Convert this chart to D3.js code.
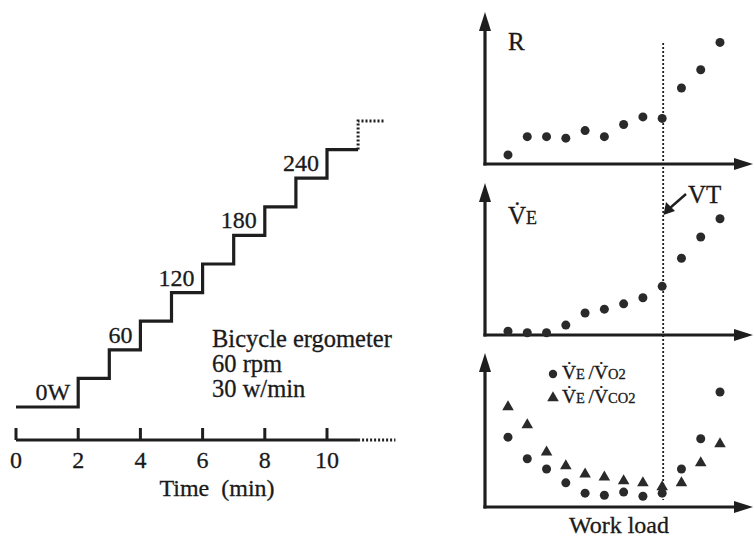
<!DOCTYPE html>
<html>
<head>
<meta charset="utf-8">
<script src="https://cdn.jsdelivr.net/npm/d3@7"></script>
<style>
  html, body { margin: 0; padding: 0; background: #fff; }
  svg { display: block; }
  text { font-family: "Liberation Serif", "Times New Roman", "DejaVu Serif", serif; fill: #1a1a1a; stroke: #1a1a1a; stroke-width: 0.3px; }
</style>
</head>
<body>
<svg id="chart" width="754" height="538"></svg>
<script>
// ---------- data ----------
// Left: incremental exercise protocol (power steps, W) vs time (min)
const stepTimes  = [0, 2, 3, 4, 5, 6, 7, 8, 9, 10, 11];
const stepPower  = [0, 30, 60, 90, 120, 150, 180, 210, 240, 270, 300];
const stepLabels = [{t: 2, p: 0, text: "0W"}, {t: 4, p: 60, text: "60"}, {t: 6, p: 120, text: "120"},
                    {t: 8, p: 180, text: "180"}, {t: 10, p: 240, text: "240"}];
const timeTicks  = [0, 2, 4, 6, 8, 10];
const protocolText = ["Bicycle ergometer", "60 rpm", "30 w/min"];

// Right: responses vs work-load stage
const workStage = [1, 2, 3, 4, 5, 6, 7, 8, 9, 10, 11, 12];
const vtStage   = 9;
const rValues   = [0.78, 0.84, 0.84, 0.835, 0.86, 0.84, 0.88, 0.905, 0.90, 1.00, 1.06, 1.15];
const veValues  = [12.5, 11.5, 11.5, 16.5, 24.5, 27, 30.5, 34.5, 42, 60.5, 74.5, 86.5];
const veVo2     = [31.6, 27.4, 25.4, 22.7, 20.7, 20.3, 20.9, 20.1, 20.7, 25.4, 31.3, 40.4];
const veVco2    = [37.5, 34.0, 28.7, 26.0, 24.4, 23.8, 23.1, 22.7, 21.9, 22.7, 26.6, 30.3];

// ---------- setup ----------
const svg = d3.select("#chart");
const ink = "#1e1e1e";
const dotInk = "#2a2a2a";

// ---------- left chart ----------
const xT = d3.scaleLinear().domain([0, 10]).range([16, 327]);
const yP = d3.scaleLinear().domain([0, 300]).range([407, 121]);

// staircase (solid part up to t=11)
const solidPts = [];
for (let i = 0; i < stepTimes.length - 1; i++) {
  solidPts.push([stepTimes[i], stepPower[i]]);
  solidPts.push([stepTimes[i + 1], stepPower[i]]);
}
svg.append("path")
  .attr("d", d3.line().x(d => xT(d[0])).y(d => yP(d[1]))(solidPts))
  .attr("fill", "none").attr("stroke", ink).attr("stroke-width", 3.2)
  .attr("stroke-linejoin", "miter");

// dotted continuation
const last = stepTimes.length - 1;
const dotPts = [[stepTimes[last], stepPower[last - 1]], [stepTimes[last], stepPower[last]], [stepTimes[last] + 0.88, stepPower[last]]];
svg.append("path")
  .attr("d", d3.line().x(d => xT(d[0])).y(d => yP(d[1]))(dotPts))
  .attr("fill", "none").attr("stroke", ink).attr("stroke-width", 3)
  .attr("stroke-dasharray", "2,2");

// step labels
svg.selectAll("text.step").data(stepLabels).enter().append("text")
  .attr("class", "step")
  .attr("x", d => xT(d.t) - 8)
  .attr("y", d => yP(d.p) - 7)
  .attr("text-anchor", "end")
  .attr("font-size", 24)
  .text(d => d.text);

// protocol text
svg.selectAll("text.proto").data(protocolText).enter().append("text")
  .attr("class", "proto")
  .attr("x", 212)
  .attr("y", (d, i) => 347 + i * 25)
  .attr("font-size", 24.5)
  .text(d => d);

// time axis
const axisY = 440;
svg.append("line").attr("x1", xT(0)).attr("x2", xT(11)).attr("y1", axisY).attr("y2", axisY)
  .attr("stroke", ink).attr("stroke-width", 3);
svg.append("line").attr("x1", xT(11)).attr("x2", xT(12.2)).attr("y1", axisY).attr("y2", axisY)
  .attr("stroke", ink).attr("stroke-width", 3).attr("stroke-dasharray", "2,2");
svg.selectAll("line.tick").data(timeTicks).enter().append("line")
  .attr("class", "tick")
  .attr("x1", d => xT(d)).attr("x2", d => xT(d))
  .attr("y1", axisY - 12).attr("y2", axisY)
  .attr("stroke", ink).attr("stroke-width", 3);
svg.selectAll("text.ticklab").data(timeTicks).enter().append("text")
  .attr("class", "ticklab")
  .attr("x", d => xT(d)).attr("y", 468)
  .attr("text-anchor", "middle").attr("font-size", 24)
  .text(d => d);
svg.append("text").attr("x", 217).attr("y", 496).attr("text-anchor", "middle")
  .attr("font-size", 24).attr("xml:space", "preserve").text("Time\u00a0\u00a0(min)");

// ---------- right panels ----------
const xW = d3.scaleLinear().domain([1, 12]).range([508, 720]);
const axX = 485, axRight = 753;

const panels = [
  {top: 12, bottom: 164, domain: [0.75, 1.25]},
  {top: 183, bottom: 335, domain: [10, 110]},
  {top: 353, bottom: 507, domain: [18, 48]}
];
panels.forEach(p => {
  p.y = d3.scaleLinear().domain(p.domain).range([p.bottom, p.top]);
  svg.append("line").attr("x1", axX).attr("x2", axX).attr("y1", p.top + 12).attr("y2", p.bottom + 1.5)
    .attr("stroke", ink).attr("stroke-width", 3.2);
  svg.append("path").attr("d", `M${axX},${p.top} L${axX - 6},${p.top + 19} L${axX + 6},${p.top + 19} Z`)
    .attr("fill", ink);
  svg.append("line").attr("x1", axX - 1.6).attr("x2", axRight - 12).attr("y1", p.bottom).attr("y2", p.bottom)
    .attr("stroke", ink).attr("stroke-width", 3.2);
  svg.append("path").attr("d", `M${axRight},${p.bottom} L${axRight - 19},${p.bottom - 6} L${axRight - 19},${p.bottom + 6} Z`)
    .attr("fill", ink);
});

// VT dotted line
svg.append("line").attr("x1", xW(vtStage) + 1).attr("x2", xW(vtStage) + 1)
  .attr("y1", 43).attr("y2", 500)
  .attr("stroke", ink).attr("stroke-width", 1.8).attr("stroke-dasharray", "2,2");

// R points
svg.selectAll("circle.r").data(rValues).enter().append("circle")
  .attr("class", "r")
  .attr("cx", (d, i) => xW(workStage[i])).attr("cy", d => panels[0].y(d))
  .attr("r", 4.5).attr("fill", dotInk);
// VE points
svg.selectAll("circle.ve").data(veValues).enter().append("circle")
  .attr("class", "ve")
  .attr("cx", (d, i) => xW(workStage[i])).attr("cy", d => panels[1].y(d))
  .attr("r", 4.5).attr("fill", dotInk);
// VE/VCO2 triangles
const tri = d3.symbol().type(d3.symbolTriangle).size(58);
svg.selectAll("path.vco2").data(veVco2).enter().append("path")
  .attr("class", "vco2")
  .attr("transform", (d, i) => `translate(${xW(workStage[i])},${panels[2].y(d)})`)
  .attr("d", tri).attr("fill", dotInk);
// VE/VO2 circles
svg.selectAll("circle.vo2").data(veVo2).enter().append("circle")
  .attr("class", "vo2")
  .attr("cx", (d, i) => xW(workStage[i])).attr("cy", d => panels[2].y(d))
  .attr("r", 4.5).attr("fill", dotInk);

// panel labels
svg.append("text").attr("x", 508).attr("y", 50).attr("font-size", 25).text("R");
const veLab = svg.append("text").attr("x", 508).attr("y", 224).attr("font-size", 25);
veLab.append("tspan").text("V\u0307");
veLab.append("tspan").attr("font-size", 18).text("E");

// VT annotation
svg.append("text").attr("x", 688).attr("y", 203).attr("font-size", 25).text("VT");
svg.append("line").attr("x1", 686).attr("y1", 194).attr("x2", 670).attr("y2", 208)
  .attr("stroke", ink).attr("stroke-width", 2.4);
svg.append("path").attr("d", "M663.5,215 L666,202 L675,211 Z").attr("fill", ink);

// legend
const legendItems = [{sym: "circle", a: "O", b: "2"}, {sym: "triangle", a: "CO", b: "2"}];
legendItems.forEach((it, i) => {
  const y = 379 + i * 24;
  if (it.sym === "circle") {
    svg.append("circle").attr("cx", 553).attr("cy", y - 5).attr("r", 4.2).attr("fill", dotInk);
  } else {
    svg.append("path").attr("transform", `translate(553,${y - 5})`).attr("d", tri).attr("fill", dotInk);
  }
  const t = svg.append("text").attr("x", 562).attr("y", y).attr("font-size", 19.5).attr("xml:space", "preserve");
  t.append("tspan").text("V\u0307");
  t.append("tspan").attr("font-size", 14.5).text("E ");
  t.append("tspan").text("/V\u0307");
  t.append("tspan").attr("font-size", 14.5).text(it.a + it.b);
});

// x label
svg.append("text").attr("x", 619).attr("y", 533).attr("text-anchor", "middle")
  .attr("font-size", 24).text("Work load");
</script>
</body>
</html>
